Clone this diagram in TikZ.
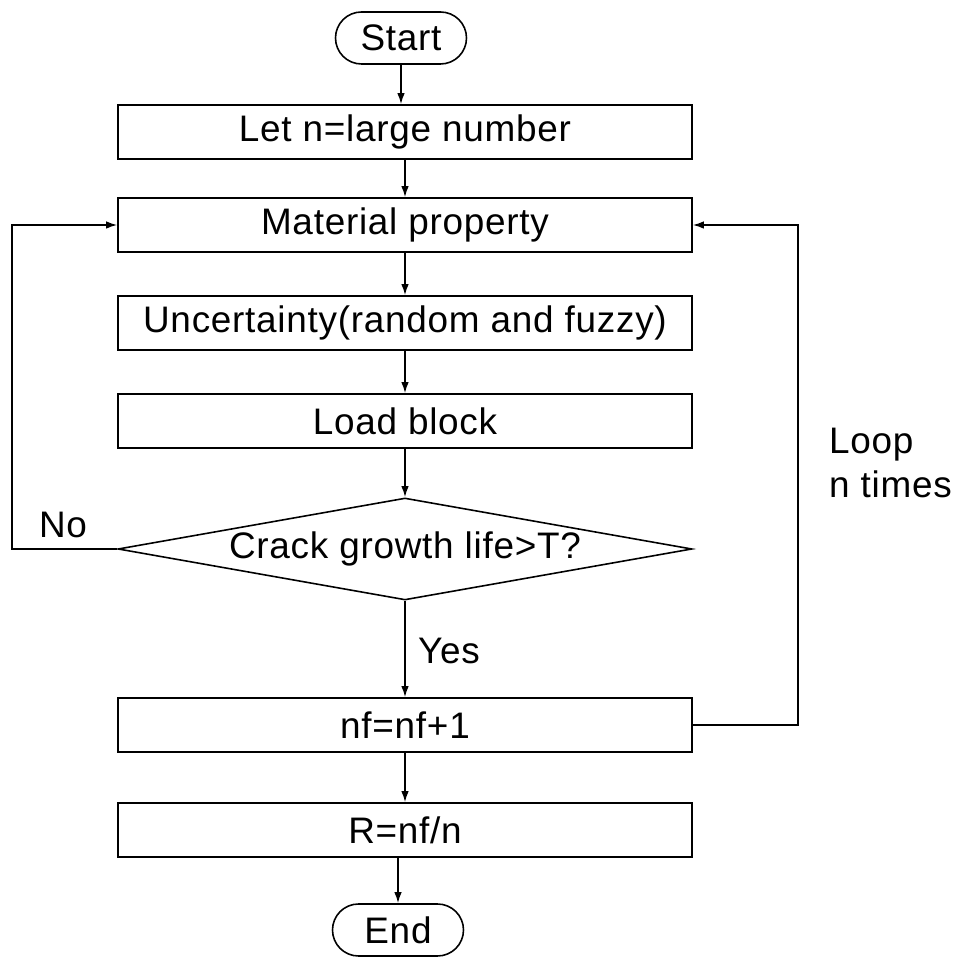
\documentclass[tikz,border=0pt]{standalone}
\usepackage{fontspec}
\setmainfont[LetterSpace=2]{Liberation Sans}
\usetikzlibrary{shapes.geometric,arrows.meta}

\begin{document}
\begin{tikzpicture}[
    font=\fontsize{21}{25}\selectfont,
    line width=0.9pt,
    flow/.style={-{Latex[length=2.2mm,width=1.5mm]}},
    stepbox/.style={draw,rectangle,minimum width=11.48cm,minimum height=1.08cm,inner sep=0pt},
    terminal/.style={draw,rectangle,rounded corners=0.52cm,minimum width=2.62cm,minimum height=1.04cm,inner sep=0pt},
    decision/.style={draw,diamond,aspect=5.63,minimum width=11.48cm,minimum height=2.04cm,inner sep=0pt}]
                    \useasboundingbox (0,0) rectangle (19.14,19.16);

                    % main column
                    \node[terminal] (start) at (8.02,18.40) {Start};
                    \node[stepbox] (letn) at (8.10,16.52) {Let n=large number};
                    \node[stepbox] (material) at (8.10,14.66) {Material property};
                    \node[stepbox] (uncert) at (8.10,12.70) {Uncertainty(random and fuzzy)};
                    \node[stepbox] (load) at (8.10,10.74) {Load block};
                    \node[decision] (crack) at (8.10,8.18) {Crack growth life>T?};
                    \node[stepbox] (count) at (8.10,4.66) {nf=nf+1};
                    \node[stepbox] (ratio) at (8.10,2.56) {R=nf/n};
                    \node[terminal] (end) at (7.96,0.56) {End};

                    \draw[flow] (start.south) -- (start.south |- letn.north);
                    \draw[flow] (letn) -- (material);
                    \draw[flow] (material) -- (uncert);
                    \draw[flow] (uncert) -- (load);
                    \draw[flow] (load) -- (crack);
                    \draw[flow] (crack) -- (count);
                    \draw[flow] (count) -- (ratio);
                    \draw[flow] (ratio.south -| end.north) -- (end.north);

                    % the two loops back to the material step
                    \coordinate (nocorner) at (0.24,8.18);
                    \coordinate (loopcorner) at (15.96,4.66);
                    \draw[flow] (crack.west) -- (nocorner) |- (material.west);
                    \draw[flow] (count.east) -- (loopcorner) |- (material.east);

                    \node (no) at (1.26,8.66) {No};
                    \node (yes) at (8.98,6.14) {Yes};
                    \node[align=left,anchor=west] (loop) at (16.45,9.90) {Loop\\n times};
                \end{tikzpicture}
\end{document}
